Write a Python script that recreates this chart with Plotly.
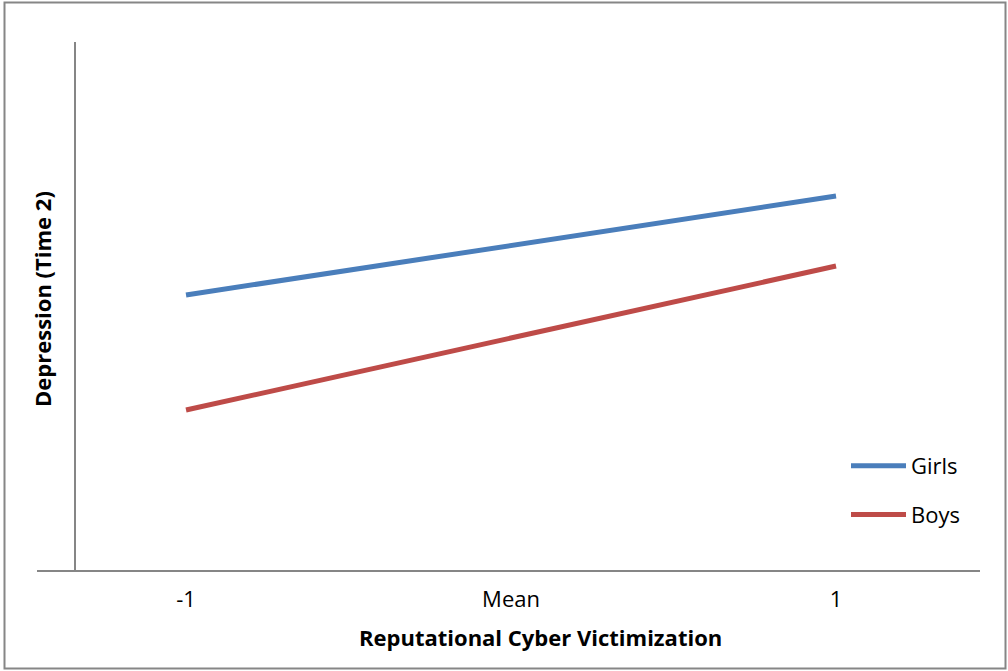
import plotly.graph_objects as go

# Moderation plot: depression at Time 2 by reputational cyber victimization level
levels = [-1, 0, 1]
level_labels = ["-1", "Mean", "1"]
girls = [2.75, 3.245, 3.74]
boys = [1.60, 2.32, 3.04]

BLUE = "#4A7EBB"
RED = "#BE4B48"
AXIS_GRAY = "#868686"
FONT = "Open Sans"
FS = 22

W, H = 1008, 671
ML, MR, MT, MB = 37, 28, 42, 101
PW, PH = W - ML - MR, H - MT - MB

fig = go.Figure()
fig.add_trace(go.Scatter(x=levels, y=girls, mode="lines", name="Girls",
                         line=dict(color=BLUE, width=5), legendgroup="g"))
fig.add_trace(go.Scatter(x=levels, y=boys, mode="lines", name="Boys",
                         line=dict(color=RED, width=5), legendgroup="b"))

def px_x(p):
    return (p - ML) / PW

def px_y(p):
    return 1 - (p - MT) / PH

fig.update_layout(
    width=W, height=H,
    margin=dict(l=ML, r=MR, t=MT, b=MB),
    paper_bgcolor="white", plot_bgcolor="white",
    font=dict(family=FONT, size=FS, color="black"),
    xaxis=dict(range=[-1.4585, 1.443], tickvals=levels, ticktext=level_labels,
               showgrid=False, zeroline=False, showline=True, linecolor=AXIS_GRAY,
               linewidth=2, ticks="", ticklabelstandoff=9,
               tickfont=dict(family=FONT, size=FS)),
    yaxis=dict(range=[0, 5.28], showgrid=False, zeroline=False, showline=True,
               linecolor=AXIS_GRAY, linewidth=2, showticklabels=False, ticks="",
               anchor="free", position=px_x(75)),
    showlegend=True,
    legend=dict(x=px_x(846), y=px_y(445), xanchor="left", yanchor="top",
                bgcolor="rgba(0,0,0,0)", itemwidth=55, tracegroupgap=17,
                traceorder="grouped", font=dict(family=FONT, size=FS)),
)

# axis titles
fig.add_annotation(text="<b>Reputational Cyber Victimization</b>", xref="paper", yref="paper",
                   x=px_x(540), y=px_y(637), showarrow=False,
                   font=dict(family=FONT, size=FS), xanchor="center", yanchor="middle")
fig.add_annotation(text="<b>Depression (Time 2)</b>", xref="paper", yref="paper",
                   x=px_x(42), y=px_y(299), showarrow=False, textangle=-90,
                   font=dict(family=FONT, size=FS), xanchor="center", yanchor="middle")

# chart border
fig.add_shape(type="rect", xref="paper", yref="paper",
              x0=px_x(4.5), x1=px_x(1005.5), y0=px_y(668.5), y1=px_y(2.5),
              line=dict(color=AXIS_GRAY, width=2), fillcolor="rgba(0,0,0,0)", layer="below")

fig.write_html("out.html")
